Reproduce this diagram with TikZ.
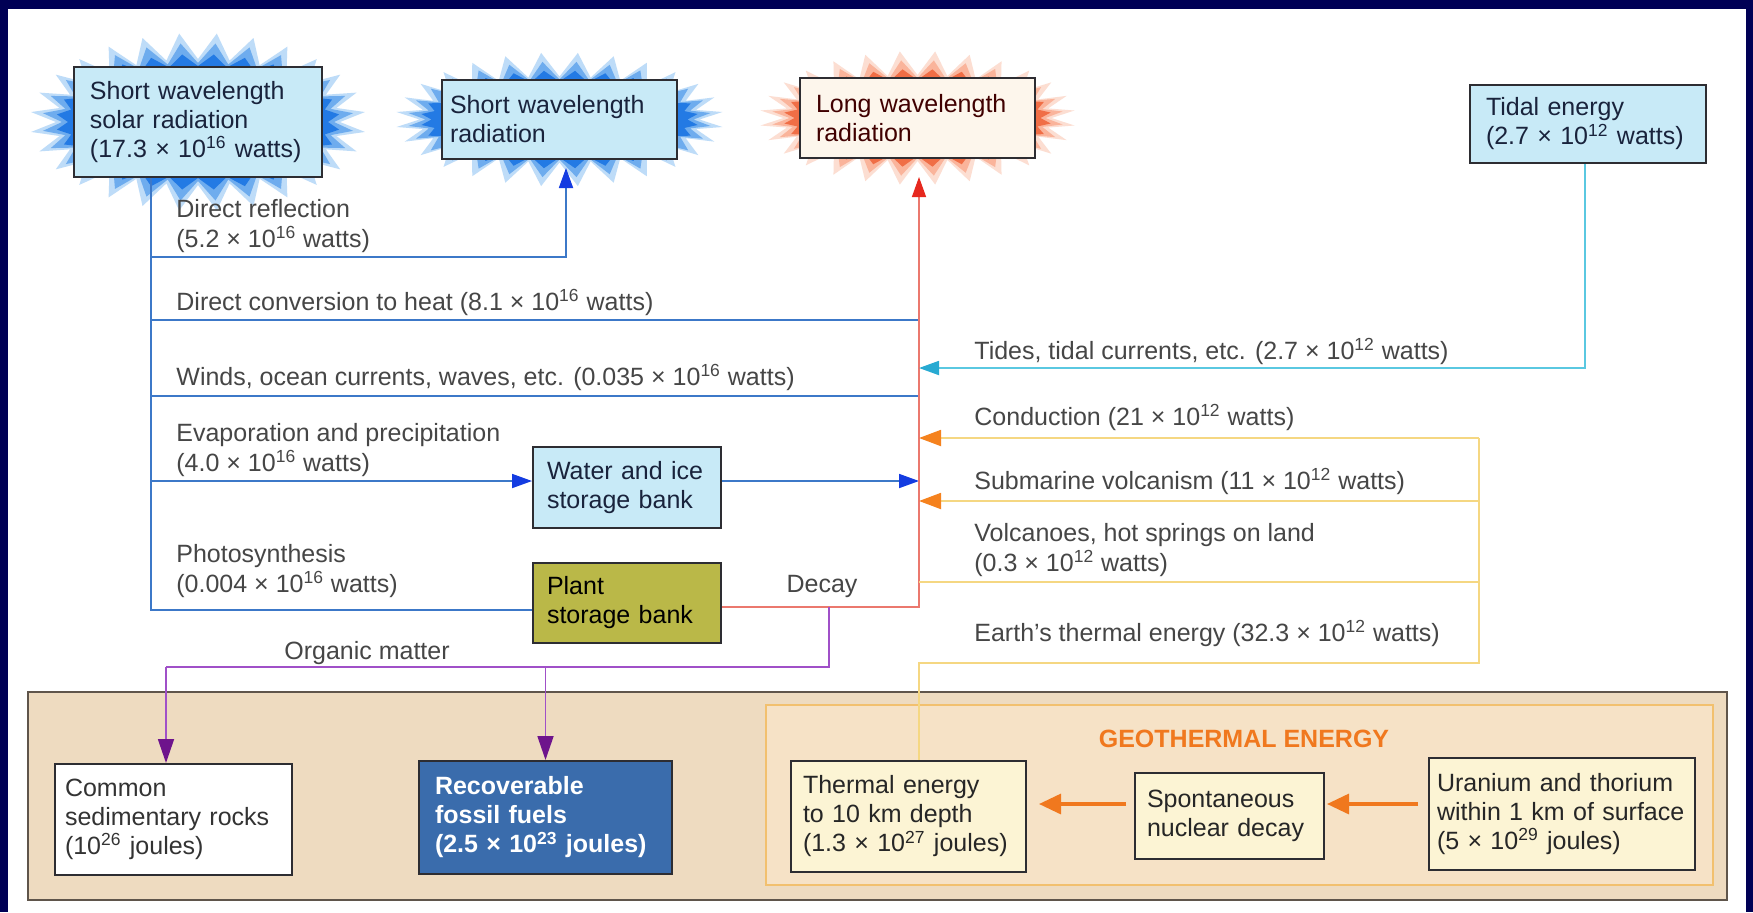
\documentclass[tikz,border=0pt]{standalone}
\usepackage{fontspec}
\setmainfont{Liberation Sans}
\usetikzlibrary{arrows.meta}
\definecolor{navy}{RGB}{0,0,85}
\definecolor{boxline}{RGB}{45,45,50}
\definecolor{boxtext}{RGB}{25,35,60}
\definecolor{lbltext}{RGB}{70,70,70}
\definecolor{skyfill}{RGB}{200,234,247}
\definecolor{longfill}{RGB}{253,246,236}
\definecolor{plantfill}{RGB}{186,184,72}
\definecolor{fossilfill}{RGB}{58,108,172}
\definecolor{creamfill}{RGB}{252,244,212}
\definecolor{tan}{RGB}{238,219,192}
\definecolor{panelline}{RGB}{95,85,75}
\definecolor{geoline}{RGB}{242,192,110}
\definecolor{geofill}{RGB}{246,226,198}
\definecolor{geotext}{RGB}{240,120,30}
\definecolor{burstpale}{RGB}{190,220,248}
\definecolor{burstlt}{RGB}{110,172,238}
\definecolor{burstdk}{RGB}{35,122,228}
\definecolor{redpale}{RGB}{252,222,210}
\definecolor{redlt}{RGB}{250,180,155}
\definecolor{reddk}{RGB}{240,110,70}
\definecolor{blueln}{RGB}{60,120,200}
\definecolor{bluetip}{RGB}{20,60,225}
\definecolor{redln}{RGB}{235,120,110}
\definecolor{redtip}{RGB}{230,40,30}
\definecolor{cyanln}{RGB}{90,200,225}
\definecolor{cyantip}{RGB}{40,170,210}
\definecolor{yelln}{RGB}{245,215,130}
\definecolor{orangetip}{RGB}{245,130,30}
\definecolor{purpln}{RGB}{160,80,200}
\definecolor{purptip}{RGB}{110,20,140}
\newcommand\boxfont{\fontsize{12.5pt}{14.5pt}\selectfont}
\newcommand\lblfont{\fontsize{12.5pt}{15pt}\selectfont}
\newcommand\radburst[6]{\fill[#6] plot[variable=\t,samples=57,domain=0:56]
  ({#1+(#3+#5*mod(round(\t),2))*cos(\t*45/7)},{#2+(#4+#5*mod(round(\t),2))*sin(\t*45/7)}) -- cycle;}
\begin{document}
\begin{tikzpicture}[x=0.5pt,y=-0.5pt,
  box/.style={draw=boxline,line width=1pt,align=left,font=\boxfont,text=boxtext,inner ysep=0pt},
  lbl/.style={font=\lblfont,text=lbltext,align=left,inner sep=0pt},
  flow/.style={line width=0.9pt},
  tip/.style={-{Triangle[length=10pt,width=7pt,color=#1]}},
  geoarrow/.style={line width=1.6pt,geotext,-{Triangle[length=11pt,width=10pt]}}]
\fill[navy] (0,0) rectangle (1753,912);
\fill[white] (8,9) rectangle (1746,912);
\radburst{198}{122}{142}{63}{26}{burstpale}
\radburst{198}{122}{136}{59}{20}{burstlt}
\radburst{198}{122}{130}{56}{12}{burstdk}
\radburst{559.5}{119.5}{140}{43}{24}{burstpale}
\radburst{559.5}{119.5}{134}{40}{18}{burstlt}
\radburst{559.5}{119.5}{128}{38}{11}{burstdk}
\radburst{917.5}{118}{134}{43}{24}{redpale}
\radburst{917.5}{118}{128}{40}{18}{redlt}
\radburst{917.5}{118}{123}{38}{11}{reddk}
\draw[panelline,fill=tan,line width=1.2pt] (28,692) rectangle (1727,900);
\draw[geoline,fill=geofill,line width=1pt] (766,705) rectangle (1713,885);
\node[font=\bfseries\lblfont,text=geotext] (geotitle) at (1244,739) {GEOTHERMAL ENERGY};
\node[box,fill=skyfill,minimum height=55pt,inner xsep=8pt,text width=108pt] (solar) at (198,122)
  {Short wavelength\\solar radiation\\(17.3 × 10\textsuperscript{16} watts)};
\node[box,fill=skyfill,minimum height=39.5pt,inner xsep=4pt,text width=109.5pt] (shortrad) at (559.5,119.5)
  {Short wavelength\\radiation};
\node[box,fill=longfill,minimum height=40pt,inner xsep=8pt,text width=101.5pt,text=black!75!red] (longrad) at (917.5,118)
  {Long wavelength\\radiation};
\node[box,fill=skyfill,minimum height=39pt,inner xsep=8pt,text width=102pt] (tidal) at (1588,124)
  {Tidal energy\\(2.7 × 10\textsuperscript{12} watts)};
\node[box,fill=skyfill,minimum height=40.5pt,inner xsep=7pt,text width=80pt] (water) at (627,487.5)
  {Water and ice\\storage bank};
\node[box,fill=plantfill,minimum height=40pt,inner xsep=7pt,text width=80pt,text=black] (plant) at (627,603)
  {Plant\\storage bank};
\node[box,fill=white,minimum height=55.5pt,inner xsep=5pt,text width=108.5pt,text=black!80] (rocks) at (173.5,819.5)
  {Common\\sedimentary rocks\\(10\textsuperscript{26} joules)};
\node[box,fill=fossilfill,minimum height=56.5pt,inner xsep=8pt,text width=110.5pt,text=white,font=\boxfont\bfseries] (fossil) at (545.5,817.5)
  {Recoverable\\fossil fuels\\(2.5 × 10\textsuperscript{23} joules)};
\node[box,fill=creamfill,minimum height=55.5pt,inner xsep=6pt,text width=105.5pt,text=black!85] (thermal) at (908.5,816.5)
  {Thermal energy\\to 10 km depth\\(1.3 × 10\textsuperscript{27} joules)};
\node[box,fill=creamfill,minimum height=43pt,inner xsep=6pt,text width=82.5pt,text=black!85] (spont) at (1229.5,816)
  {Spontaneous\\nuclear decay};
\node[box,fill=creamfill,minimum height=56pt,inner xsep=4pt,text width=125pt,text=black!85] (uran) at (1562,814)
  {Uranium and thorium\\within 1 km of surface\\(5 × 10\textsuperscript{29} joules)};
\coordinate (trunk) at (151,610);
\coordinate (refl) at (566,257);
\coordinate (reflend) at (566,168);
\coordinate (heat) at (919,320);
\coordinate (wind) at (919,396);
\coordinate (evap) at (919,481);
\coordinate (decay) at (919,607);
\coordinate (longend) at (919,177);
\coordinate (tide) at (1585,368);
\coordinate (yeltop) at (1479,438);
\coordinate (subm) at (1479,501);
\coordinate (volc) at (1479,582);
\coordinate (yelbot) at (1479,663);
\coordinate (orgtop) at (829,607);
\coordinate (orgR) at (829,667);
\coordinate (orgL) at (166,667);
\coordinate (geoy) at (1000,804);
\draw[flow,blueln] (solar.south -| trunk) -- (trunk) -- (trunk -| plant.west);
\draw[flow,blueln,tip=bluetip] (trunk |- refl) -- (refl) -- (reflend);
\draw[flow,blueln] (trunk |- heat) -- (heat);
\draw[flow,blueln] (trunk |- wind) -- (wind);
\draw[flow,blueln,tip=bluetip] (trunk |- evap) -- (water.west |- evap);
\draw[flow,blueln,tip=bluetip] (water.east |- evap) -- (evap);
\draw[line width=0.7pt,redln,tip=redtip] (plant.east |- decay) -- (decay) -- (longend);
\draw[flow,cyanln,tip=cyantip] (tidal.south -| tide) -- (tide) -- (tide -| decay);
\draw[flow,yelln] (yeltop) -- (yelbot) -- (yelbot -| decay) -- (thermal.north -| decay);
\draw[flow,yelln,-{Triangle[length=11pt,width=8pt,color=orangetip]}] (yeltop) -- (yeltop -| decay);
\draw[flow,yelln,-{Triangle[length=11pt,width=8pt,color=orangetip]}] (subm) -- (subm -| decay);
\draw[flow,yelln] (volc) -- (volc -| decay);
\draw[flow,purpln] (orgtop) -- (orgR) -- (orgL);
\draw[flow,purpln,-{Triangle[length=12pt,width=8pt,color=purptip]}] (orgL) -- (rocks.north -| orgL);
\draw[flow,purpln,-{Triangle[length=12pt,width=8pt,color=purptip]}] (fossil.north |- orgL) -- (fossil.north);
\draw[geoarrow,shorten <=5pt,shorten >=1pt] (uran.west |- geoy) -- (spont.east |- geoy);
\draw[geoarrow,shorten <=4pt,shorten >=6pt] (spont.west |- geoy) -- (thermal.east |- geoy);
\node[lbl,anchor=south west] (lrefl) at (176,253) {Direct reflection\\(5.2 × 10\textsuperscript{16} watts)};
\node[lbl,anchor=south west] (lheat) at (176,316) {Direct conversion to heat (8.1 × 10\textsuperscript{16} watts)};
\node[lbl,anchor=south west] (lwind) at (176,391) {Winds, ocean currents, waves, etc. (0.035 × 10\textsuperscript{16} watts)};
\node[lbl,anchor=south west] (levap) at (176,477) {Evaporation and precipitation\\(4.0 × 10\textsuperscript{16} watts)};
\node[lbl,anchor=south west] (lphoto) at (176,598) {Photosynthesis\\(0.004 × 10\textsuperscript{16} watts)};
\node[lbl,anchor=south] (ldecay) at (822,598) {Decay};
\node[lbl,anchor=base] (lorg) at (367,659) {Organic matter};
\node[lbl,anchor=south west] (ltide) at (974,365) {Tides, tidal currents, etc. (2.7 × 10\textsuperscript{12} watts)};
\node[lbl,anchor=south west] (lcond) at (974,431) {Conduction (21 × 10\textsuperscript{12} watts)};
\node[lbl,anchor=south west] (lsubm) at (974,495) {Submarine volcanism (11 × 10\textsuperscript{12} watts)};
\node[lbl,anchor=south west] (lvolc) at (974,577) {Volcanoes, hot springs on land\\(0.3 × 10\textsuperscript{12} watts)};
\node[lbl,anchor=south west] (learth) at (974,647) {Earth's thermal energy (32.3 × 10\textsuperscript{12} watts)};
\end{tikzpicture}
\end{document}
